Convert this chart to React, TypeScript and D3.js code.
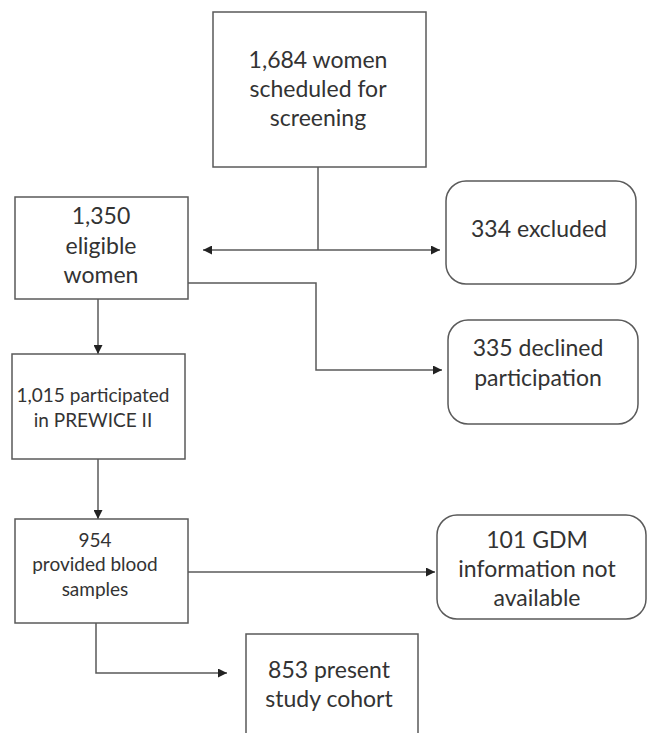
import { useEffect, useRef } from 'react';
import * as d3 from 'd3';

// box labels, one entry per line
const SCREENED = ['1,684 women', 'scheduled for', 'screening'];
const ELIGIBLE = ['1,350', 'eligible', 'women'];
const EXCLUDED = ['334 excluded'];
const DECLINED = ['335 declined', 'participation'];
const PARTICIPATED = ['1,015 participated', 'in PREWICE II'];
const BLOOD = ['954', 'provided blood', 'samples'];
const NO_GDM = ['101 GDM', 'information not', 'available'];
const COHORT = ['853 present', 'study cohort'];

const W = 648;
const H = 733;

interface Box {
  id: string;
  lines: string[];
  x: number; y: number; w: number; h: number;
  cx: number; ty: number; // text centre x, first line y
  size: number; lh: number;
  rounded: boolean;
  open?: boolean; // bottom edge cut off by the page
}

const BOXES: Box[] = [
  { id: 'screened', lines: SCREENED, x: 213, y: 12, w: 213, h: 155, cx: 318, ty: 60, size: 23, lh: 29, rounded: false },
  { id: 'eligible', lines: ELIGIBLE, x: 15, y: 197, w: 173, h: 102, cx: 101, ty: 216, size: 23, lh: 29.5, rounded: false },
  { id: 'excluded', lines: EXCLUDED, x: 446, y: 181, w: 190, h: 103, cx: 539, ty: 229, size: 23, lh: 30, rounded: true },
  { id: 'declined', lines: DECLINED, x: 448, y: 320, w: 190, h: 104, cx: 538, ty: 348, size: 23, lh: 30, rounded: true },
  { id: 'participated', lines: PARTICIPATED, x: 12, y: 354, w: 173, h: 105, cx: 93, ty: 395, size: 19, lh: 25, rounded: false },
  { id: 'blood', lines: BLOOD, x: 15, y: 519, w: 173, h: 104, cx: 95, ty: 540, size: 19, lh: 24.5, rounded: false },
  { id: 'nogdm', lines: NO_GDM, x: 437, y: 515, w: 209, h: 104, cx: 537, ty: 540, size: 23, lh: 29, rounded: true },
  { id: 'cohort', lines: COHORT, x: 246, y: 634, w: 172, h: 110, cx: 329, ty: 670, size: 23, lh: 29, rounded: false, open: true },
];

// connectors as polylines, arrowheads at the end (and start if both)
interface Link { pts: [number, number][]; start?: boolean; end: boolean }

const LINKS: Link[] = [
  { pts: [[318, 167], [318, 250]], end: false },
  { pts: [[203, 250], [440, 250]], start: true, end: true },
  { pts: [[188, 283], [316, 283], [316, 370], [442, 370]], end: true },
  { pts: [[98, 299], [98, 354]], end: true },
  { pts: [[98, 459], [98, 519]], end: true },
  { pts: [[188, 572], [435, 572]], end: true },
  { pts: [[96, 623], [96, 673], [227, 673]], end: true },
];

export default function App() {
  const svgRef = useRef<SVGSVGElement>(null);

  useEffect(() => {
    if (!svgRef.current) return;
    const svg = d3.select(svgRef.current);
    svg.selectAll('*').remove();

    const stroke = '#5a5a5a';
    const textColor = '#333333';

    const defs = svg.append('defs');
    defs.append('marker')
      .attr('id', 'arrow')
      .attr('viewBox', '0 0 10 10')
      .attr('refX', 10).attr('refY', 5)
      .attr('markerWidth', 9).attr('markerHeight', 9)
      .attr('markerUnits', 'userSpaceOnUse')
      .attr('orient', 'auto-start-reverse')
      .append('path').attr('d', 'M0,0 L10,5 L0,10 Z').attr('fill', '#222');

    svg.append('rect').attr('width', W).attr('height', H).attr('fill', '#ffffff');

    const line = d3.line<[number, number]>();

    svg.selectAll('path.link').data(LINKS).join('path')
      .attr('class', 'link')
      .attr('d', d => line(d.pts))
      .attr('fill', 'none')
      .attr('stroke', stroke)
      .attr('stroke-width', 1.5)
      .attr('marker-end', d => d.end ? 'url(#arrow)' : null)
      .attr('marker-start', d => d.start ? 'url(#arrow)' : null);

    const boxes = svg.selectAll('g.box').data(BOXES).join('g').attr('class', 'box');

    boxes.filter(d => !d.open).append('rect')
      .attr('x', d => d.x).attr('y', d => d.y)
      .attr('width', d => d.w).attr('height', d => d.h)
      .attr('rx', d => d.rounded ? 20 : 0)
      .attr('fill', '#ffffff')
      .attr('stroke', stroke).attr('stroke-width', 1.5);

    boxes.filter(d => !!d.open).append('path')
      .attr('d', d => `M${d.x},${d.y + d.h} V${d.y} H${d.x + d.w} V${d.y + d.h}`)
      .attr('fill', '#ffffff')
      .attr('stroke', stroke).attr('stroke-width', 1.5);

    boxes.each(function (d) {
      const g = d3.select(this);
      g.selectAll('text').data(d.lines).join('text')
        .attr('x', d.cx)
        .attr('y', (_, i) => d.ty + i * d.lh)
        .attr('dy', '0.35em')
        .attr('text-anchor', 'middle')
        .attr('font-family', 'Lato, "Open Sans", sans-serif')
        .attr('font-size', d.size)
        .attr('fill', textColor)
        .text(t => t);
    });
  }, []);

  return (
    <div style={{ position: 'absolute', left: 0, top: 0, width: W, height: H, background: '#fff' }}>
      <svg ref={svgRef} width={W} height={H} />
    </div>
  );
}
